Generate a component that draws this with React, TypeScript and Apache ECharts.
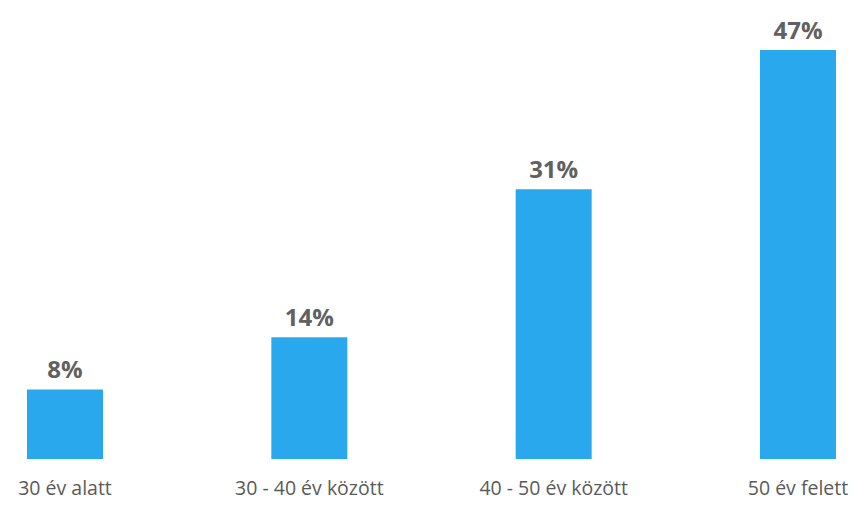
import React, { useEffect, useRef } from "react";
import * as echarts from "echarts";

const categories = ["30 év alatt", "30 - 40 év között", "40 - 50 év között", "50 év felett"];
const values = [8, 14, 31, 47];

export default function App() {
  const ref = useRef<HTMLDivElement>(null);
  useEffect(() => {
    if (!ref.current) return;
    const chart = echarts.init(ref.current, undefined, { renderer: "svg" });
    chart.setOption({
      animation: false,
      backgroundColor: "#ffffff",
      grid: { left: 65, right: 54, top: 24, bottom: 46, containLabel: false },
      xAxis: {
        type: "category",
        data: categories,
        boundaryGap: false,
        axisLine: { show: false },
        axisTick: { show: false },
        axisLabel: {
          color: "#5a5a5a",
          fontFamily: "Open Sans",
          fontSize: 19.5,
          margin: 18,
          interval: 0,
        },
      },
      yAxis: {
        type: "value",
        min: 0,
        max: 50,
        show: false,
        splitLine: { show: false },
      },
      series: [
        {
          type: "bar",
          data: values,
          barWidth: 76,
          itemStyle: { color: "#2aa8ee" },
          label: {
            show: true,
            position: "top",
            distance: 9,
            formatter: "{c}%",
            color: "#616161",
            fontFamily: "Open Sans",
            fontWeight: "bold",
            fontSize: 24,
          },
        },
      ],
    });
    return () => chart.dispose();
  }, []);
  return (
    <div
      ref={ref}
      style={{ position: "absolute", left: 0, top: 0, width: 852, height: 505 }}
    />
  );
}
